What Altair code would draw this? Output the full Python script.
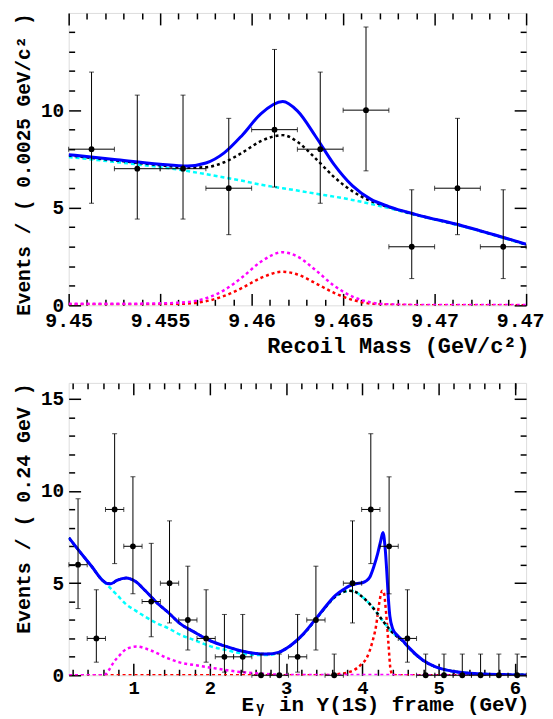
import altair as alt
import pandas as pd

# ---------------- top panel (recoil mass) ----------------
top_bin_x = [9.45125, 9.45375, 9.45625, 9.45875, 9.46125, 9.46375, 9.46625, 9.46875, 9.47125, 9.47375]
top_counts = [8, 7, 7, 6, 9, 8, 10, 3, 6, 3]
top_err_lo = [5.23, 4.42, 4.42, 3.62, 6.06, 5.23, 6.89, 1.37, 3.62, 1.37]
top_err_hi = [11.95, 10.77, 10.77, 9.58, 13.11, 11.95, 14.26, 5.92, 9.58, 5.92]
top_bin_half = 0.00125

top_curve_x = [9.4500, 9.4525, 9.4550, 9.4565, 9.4575, 9.4585, 9.4595, 9.4605, 9.4617,
               9.4625, 9.4635, 9.4645, 9.4655, 9.4665, 9.4675, 9.4690, 9.4715, 9.4750]
top_cyan = [7.60, 7.35, 7.08, 6.88, 6.72, 6.55, 6.38, 6.18, 6.00,
            5.88, 5.72, 5.57, 5.40, 5.20, 4.98, 4.62, 4.05, 3.10]
top_magenta = [0.08, 0.08, 0.10, 0.17, 0.36, 0.78, 1.45, 2.23, 2.72,
               2.50, 1.80, 1.01, 0.45, 0.15, 0.05, 0.02, 0.02, 0.02]
top_red = [0.04, 0.04, 0.05, 0.09, 0.21, 0.48, 0.90, 1.40, 1.72,
           1.58, 1.13, 0.64, 0.28, 0.09, 0.03, 0.01, 0.01, 0.01]
top_black = [7.68, 7.43, 7.18, 7.05, 7.08, 7.33, 7.83, 8.41, 8.72,
             8.38, 7.52, 6.58, 5.85, 5.35, 5.03, 4.64, 4.07, 3.12]
top_blue = [7.72, 7.47, 7.23, 7.14, 7.29, 7.81, 8.73, 9.81, 10.44,
            9.96, 8.65, 7.22, 6.13, 5.44, 5.06, 4.65, 4.08, 3.13]

top_x_ticks = [9.45, 9.455, 9.46, 9.465, 9.47, 9.475]
top_x_labels = ["9.45", "9.455", "9.46", "9.465", "9.47", "9.47"]
top_x_minor = [9.451, 9.452, 9.453, 9.454, 9.456, 9.457, 9.458, 9.459, 9.461, 9.462, 9.463, 9.464,
               9.466, 9.467, 9.468, 9.469, 9.471, 9.472, 9.473, 9.474]
top_y_ticks = [0, 5, 10]
top_y_labels = ["0", "5", "10"]
top_y_minor = [1, 2, 3, 4, 6, 7, 8, 9, 11, 12, 13, 14]

# ---------------- bottom panel (photon energy) ----------------
bot_bin_x = [0.27, 0.51, 0.75, 0.99, 1.23, 1.47, 1.71, 1.95, 2.19, 2.43, 2.67, 2.91, 3.15,
             3.39, 3.63, 3.87, 4.11, 4.35, 4.59, 4.83, 5.07, 5.31, 5.55, 5.79, 6.03]
bot_counts = [6, 2, 9, 7, 4, 5, 3, 2, 1, 1, 0, 0, 1, 3, 0, 5, 9, 7, 2, 0, 0, 0, 0, 0, 0]
bot_err_lo = [3.62, 0.71, 6.06, 4.42, 2.09, 2.84, 1.37, 0.71, 0.17, 0.17, 0, 0, 0.17,
              1.37, 0, 2.84, 6.06, 4.42, 0.71, 0, 0, 0, 0, 0, 0]
bot_err_hi = [9.58, 4.64, 13.11, 10.77, 7.16, 8.38, 5.92, 4.64, 3.30, 3.30, 1.15, 1.15, 3.30,
              5.92, 1.15, 8.38, 13.11, 10.77, 4.64, 1.15, 1.15, 1.15, 1.15, 1.15, 1.15]
bot_bin_half = 0.12

bot_blue_x = [0.15, 0.30, 0.45, 0.60, 0.65, 0.70, 0.78, 0.90, 1.02, 1.15, 1.30, 1.45, 1.61, 1.80,
              2.00, 2.20, 2.40, 2.60, 2.75, 2.90, 3.00, 3.22, 3.44, 3.65, 3.75, 3.83, 3.92, 4.00,
              4.05, 4.10, 4.15, 4.20, 4.24, 4.27, 4.30, 4.32, 4.34, 4.36, 4.40, 4.45, 4.53, 4.61,
              4.79, 4.96, 5.18, 5.40, 5.83, 6.15]
bot_blue_y = [7.46, 6.67, 5.90, 5.12, 4.98, 4.97, 5.15, 5.28, 5.10, 4.60, 3.95, 3.42, 2.80, 2.33,
              1.88, 1.58, 1.33, 1.18, 1.15, 1.24, 1.45, 2.22, 3.33, 4.35, 4.65, 4.85, 4.97, 5.02,
              5.12, 5.35, 5.90, 6.60, 7.30, 7.75, 6.80, 5.60, 4.20, 3.20, 2.50, 2.20, 1.88, 1.50,
              0.83, 0.45, 0.22, 0.11, 0.04, 0.02]
bot_cyan_x = [0.15, 0.30, 0.45, 0.60, 0.70, 0.78, 0.90, 1.02, 1.15, 1.30, 1.45, 1.61, 1.80, 2.00,
              2.20, 2.40, 2.60, 2.75, 2.90, 3.00, 3.22, 3.44, 3.65, 3.75, 3.83, 3.92, 4.00, 4.10,
              4.18, 4.25, 4.31, 4.37, 4.44, 4.53, 4.61, 4.79, 4.96, 5.18, 5.40, 5.83, 6.15]
bot_cyan_y = [7.46, 6.67, 5.90, 5.12, 4.70, 4.37, 3.85, 3.52, 3.18, 2.83, 2.56, 2.20, 1.90, 1.58,
              1.38, 1.20, 1.10, 1.10, 1.22, 1.45, 2.20, 3.30, 4.28, 4.52, 4.59, 4.50, 4.25, 3.85,
              3.45, 3.05, 2.72, 2.42, 2.15, 1.85, 1.48, 0.82, 0.45, 0.22, 0.11, 0.04, 0.02]
bot_black_x = bot_cyan_x
bot_black_y = [7.46, 6.67, 5.90, 5.12, 4.97, 5.15, 5.28, 5.10, 4.60, 3.95, 3.42, 2.80, 2.33, 1.88,
               1.58, 1.33, 1.18, 1.15, 1.24, 1.45, 2.20, 3.30, 4.28, 4.52, 4.59, 4.50, 4.25, 3.85,
               3.45, 3.05, 2.72, 2.42, 2.15, 1.85, 1.48, 0.82, 0.45, 0.22, 0.11, 0.04, 0.02]
bot_magenta_x = [0.15, 0.61, 0.67, 0.74, 0.82, 0.91, 1.04, 1.22, 1.45, 1.60, 1.80, 2.09, 2.39,
                 2.74, 3.00, 6.15]
bot_magenta_y = [0, 0, 0.25, 0.72, 1.10, 1.44, 1.56, 1.35, 0.92, 0.70, 0.55, 0.36, 0.18, 0.07,
                 0.02, 0]
bot_red_x = [0.15, 3.50, 3.65, 3.83, 3.92, 4.00, 4.05, 4.13, 4.18, 4.22, 4.26, 4.28, 4.31, 4.34,
             4.37, 4.40, 4.50, 6.15]
bot_red_y = [0, 0, 0.05, 0.18, 0.36, 0.65, 0.90, 1.80, 2.70, 3.90, 4.59, 4.50, 3.42, 1.80, 0.29,
             0.02, 0, 0]

bot_x_ticks = [1, 2, 3, 4, 5, 6]
bot_x_labels = ["1", "2", "3", "4", "5", "6"]
bot_x_minor = [0.2, 0.4, 0.6, 0.8, 1.2, 1.4, 1.6, 1.8, 2.2, 2.4, 2.6, 2.8, 3.2, 3.4, 3.6, 3.8,
               4.2, 4.4, 4.6, 4.8, 5.2, 5.4, 5.6, 5.8, 6.0]
bot_y_ticks = [0, 5, 10, 15]
bot_y_labels = ["0", "5", "10", "15"]
bot_y_minor = [1, 2, 3, 4, 6, 7, 8, 9, 11, 12, 13, 14]

FONT = "Liberation Mono"
MAJ = 12
MIN = 6
W = 460
H = 294


def label_expr(vals, labels):
    expr = "''"
    for v, l in reversed(list(zip(vals, labels))):
        expr = f"abs(datum.value - ({v})) < 1e-7 ? '{l}' : ({expr})"
    return expr


def build_axes(ch, major, labels, minor, title, label_pad, title_pad, label_size, title_size,
               last_shift=0):
    main_orient, opp_orient = ("bottom", "top") if ch == "x" else ("left", "right")
    common = dict(domain=False, grid=False, tickColor="black", tickWidth=1.5, minExtent=0)
    extra = {}
    if ch == "x":
        extra["titleX"] = W + 3
        extra["titleAlign"] = "right"
        if last_shift:
            extra["labelOffset"] = alt.condition(f"datum.value > {major[-1] - 1e-6}",
                                                 alt.value(last_shift), alt.value(0))
    else:
        extra["titleY"] = 0
        extra["titleAlign"] = "right"
    main = alt.Axis(orient=main_orient, values=major, labelExpr=label_expr(major, labels),
                    title=title, offset=-MAJ, tickSize=MAJ, labelPadding=label_pad,
                    labelFlush=False, labelOverlap=False,
                    titlePadding=title_pad, labelFont=FONT, labelFontWeight="bold",
                    labelFontSize=label_size, titleFont=FONT, titleFontWeight="bold",
                    titleFontSize=title_size, labelColor="black", titleColor="black",
                    **extra, **common)
    main_minor = alt.Axis(orient=main_orient, values=minor, labels=False, title=None,
                          offset=-MIN, tickSize=MIN, **common)
    opp = alt.Axis(orient=opp_orient, values=major, labels=False, title=None,
                   offset=-MAJ, tickSize=MAJ, **common)
    opp_minor = alt.Axis(orient=opp_orient, values=minor, labels=False, title=None,
                         offset=-MIN, tickSize=MIN, **common)
    return [main, main_minor, opp, opp_minor]


def panel(bin_x, counts, lo, hi, half, curves, xdom, ydom, xaxes, yaxes):
    xs = alt.Scale(domain=xdom, nice=False, zero=False)
    ys = alt.Scale(domain=ydom, nice=False, zero=False)
    layers = []
    for i, (cx, cy, color, dash, width) in enumerate(curves):
        df = pd.DataFrame({"x": cx, "y": cy})
        xa = xaxes[i] if i < 4 else None
        ya = yaxes[i] if i < 4 else None
        mk = dict(color=color, strokeWidth=width, interpolate="monotone", clip=True)
        if dash:
            mk["strokeDash"] = dash
        layers.append(alt.Chart(df).mark_line(**mk).encode(
            x=alt.X("x:Q", scale=xs, axis=xa),
            y=alt.Y("y:Q", scale=ys, axis=ya)))
    pts = pd.DataFrame({"x": bin_x, "y": counts, "lo": lo, "hi": hi})
    pts["xl"] = pts["x"] - half
    pts["xh"] = pts["x"] + half
    base = alt.Chart(pts)
    layers.append(base.mark_rule(color="black", strokeWidth=1).encode(
        x=alt.X("x:Q", scale=xs, axis=None), y=alt.Y("lo:Q", scale=ys, axis=None), y2="hi:Q"))
    layers.append(base.mark_rule(color="black", strokeWidth=1).encode(
        x=alt.X("xl:Q", scale=xs, axis=None), x2="xh:Q", y=alt.Y("y:Q", scale=ys, axis=None)))
    for f in ["lo", "hi"]:
        layers.append(base.mark_tick(color="black", orient="horizontal", size=5, thickness=1).encode(
            x=alt.X("x:Q", scale=xs, axis=None), y=alt.Y(f + ":Q", scale=ys, axis=None)))
    for f in ["xl", "xh"]:
        layers.append(base.mark_tick(color="black", orient="vertical", size=5, thickness=1).encode(
            x=alt.X(f + ":Q", scale=xs, axis=None), y=alt.Y("y:Q", scale=ys, axis=None)))
    layers.append(base.mark_circle(color="black", size=34, opacity=1).encode(
        x=alt.X("x:Q", scale=xs, axis=None), y=alt.Y("y:Q", scale=ys, axis=None)))
    return alt.layer(*layers).resolve_axis(x="independent", y="independent").properties(
        width=W, height=H)


BLUE = "#0000ff"
CYAN = "#00ffff"
MAG = "#ff00ff"
RED = "#ff0000"
BLK = "#000000"

top_curves = [
    (top_curve_x, top_red, RED, [3, 3], 2.5),
    (top_curve_x, top_magenta, MAG, [3, 3], 2.5),
    (top_curve_x, top_cyan, CYAN, [4, 3], 2.5),
    (top_curve_x, top_black, BLK, [3, 3], 2.5),
    (top_curve_x, top_blue, BLUE, None, 3),
]
bot_curves = [
    (bot_red_x, bot_red_y, RED, [3, 3], 2.5),
    (bot_magenta_x, bot_magenta_y, MAG, [3, 3], 2.5),
    (bot_cyan_x, bot_cyan_y, CYAN, [4, 3], 2.5),
    (bot_black_x, bot_black_y, BLK, [3, 3], 2.5),
    (bot_blue_x, bot_blue_y, BLUE, None, 3),
]

top = panel(top_bin_x, top_counts, top_err_lo, top_err_hi, top_bin_half, top_curves,
            [9.45, 9.475], [0, 14.98],
            build_axes("x", top_x_ticks, top_x_labels, top_x_minor, "Recoil Mass (GeV/c²)",
                       5, 5, 20, 22, last_shift=-6),
            build_axes("y", top_y_ticks, top_y_labels, top_y_minor, "Events / ( 0.0025 GeV/c² )",
                       5, 7, 19.5, 19.5))
bottom = panel(bot_bin_x, bot_counts, bot_err_lo, bot_err_hi, bot_bin_half, bot_curves,
               [0.147, 6.147], [0, 15.87],
               build_axes("x", bot_x_ticks, bot_x_labels, bot_x_minor, "Eᵧ in Υ(1S) frame (GeV)",
                          3, -4, 19, 21),
               build_axes("y", bot_y_ticks, bot_y_labels, bot_y_minor, "Events / ( 0.24 GeV )",
                          5, 7, 19.5, 20))

chart = alt.vconcat(top, bottom, spacing=24).properties(
    padding={"left": 5, "top": 1, "right": 0, "bottom": 0}
).configure_view(stroke="black", strokeWidth=2).configure(background="white")

chart.save("out.html", embed_options={"renderer": "svg", "actions": False})
